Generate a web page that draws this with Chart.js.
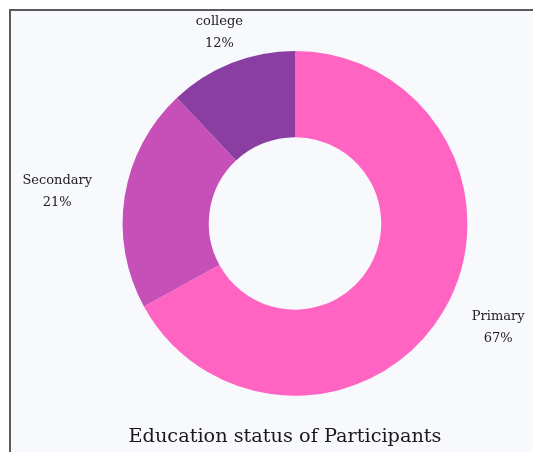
<!DOCTYPE html>
<html>
<head>
<meta charset="utf-8">
<script src="https://cdn.jsdelivr.net/npm/chart.js@4.4.1/dist/chart.umd.min.js"></script>
<style>
  html, body { margin: 0; padding: 0; background: #ffffff; width: 533px; height: 452px; overflow: hidden; }
  #frame {
    position: absolute; left: 9px; top: 9px;
    width: 522px; height: 441px;
    border-top: 2px solid #5a5a5a; border-left: 2px solid #5a5a5a;
    background: #f8f9fc;
  }
  #chart { display: block; }
</style>
</head>
<body>
<div id="frame"><canvas id="chart" width="522" height="441"></canvas></div>
<script>
// Education levels and their share of participants (percent)
const categories = ['Primary', 'Secondary', 'college'];
const shares = [67, 21, 12];
const sliceColors = ['#ff64c3', '#c74fb8', '#8a3ea2'];
const chartTitle = 'Education status of Participants';

// Writes "name / value%" outside each slice at a point along the slice's middle angle;
// blocks on the left/right sides hang away from the ring, near-vertical ones are centred
const outerLabels = {
  id: 'outerLabels',
  afterDatasetsDraw(chart, args, opts) {
    const { ctx } = chart;
    const meta = chart.getDatasetMeta(0);
    const ds = chart.data.datasets[0];
    ctx.save();
    ctx.font = opts.font;
    ctx.fillStyle = opts.color;
    ctx.textAlign = 'center';
    ctx.textBaseline = 'middle';
    meta.data.forEach((arc, i) => {
      const p = arc.getProps(['x', 'y', 'startAngle', 'endAngle', 'outerRadius'], true);
      const mid = (p.startAngle + p.endAngle) / 2;
      const dx = Math.cos(mid), dy = Math.sin(mid);
      const lines = [chart.data.labels[i], ds.data[i] + '%'];
      const w = Math.max(...lines.map(t => ctx.measureText(t).width));
      const h = lines.length * opts.lineHeight;
      const r = p.outerRadius + opts.offset;
      let cx = p.x + dx * r;
      const cy = p.y + dy * r;
      if (dx > 0.5) cx += w / 2;
      else if (dx < -0.5) cx -= w / 2;
      lines.forEach((t, k) => ctx.fillText(t, cx, cy - h / 2 + opts.lineHeight * (k + 0.5)));
    });
    ctx.restore();
  }
};

// Nudges the ring to the right of the centred title
const ringShift = {
  id: 'ringShift',
  afterLayout(chart, args, opts) {
    chart.chartArea.left += opts.left;
    chart.chartArea.width = chart.chartArea.right - chart.chartArea.left;
  }
};

new Chart(document.getElementById('chart'), {
  type: 'doughnut',
  data: {
    labels: categories,
    datasets: [{
      data: shares,
      backgroundColor: sliceColors,
      borderWidth: 0,
      hoverOffset: 0
    }]
  },
  plugins: [outerLabels, ringShift],
  options: {
    responsive: false,
    animation: false,
    cutout: '50%',
    layout: { padding: { left: 26, right: 0, top: 40, bottom: 0 } },
    plugins: {
      legend: { display: false },
      tooltip: { enabled: false },
      title: {
        display: true,
        text: chartTitle,
        position: 'bottom',
        color: '#1a1a1a',
        font: { family: 'DejaVu Serif', size: 19.3, weight: 'normal' },
        padding: { top: 30, bottom: 3 }
      },
      outerLabels: {
        font: '13px "DejaVu Serif"',
        color: '#222222',
        lineHeight: 22,
        offset: 33
      },
      ringShift: { left: 20 }
    }
  }
});
</script>
</body>
</html>
